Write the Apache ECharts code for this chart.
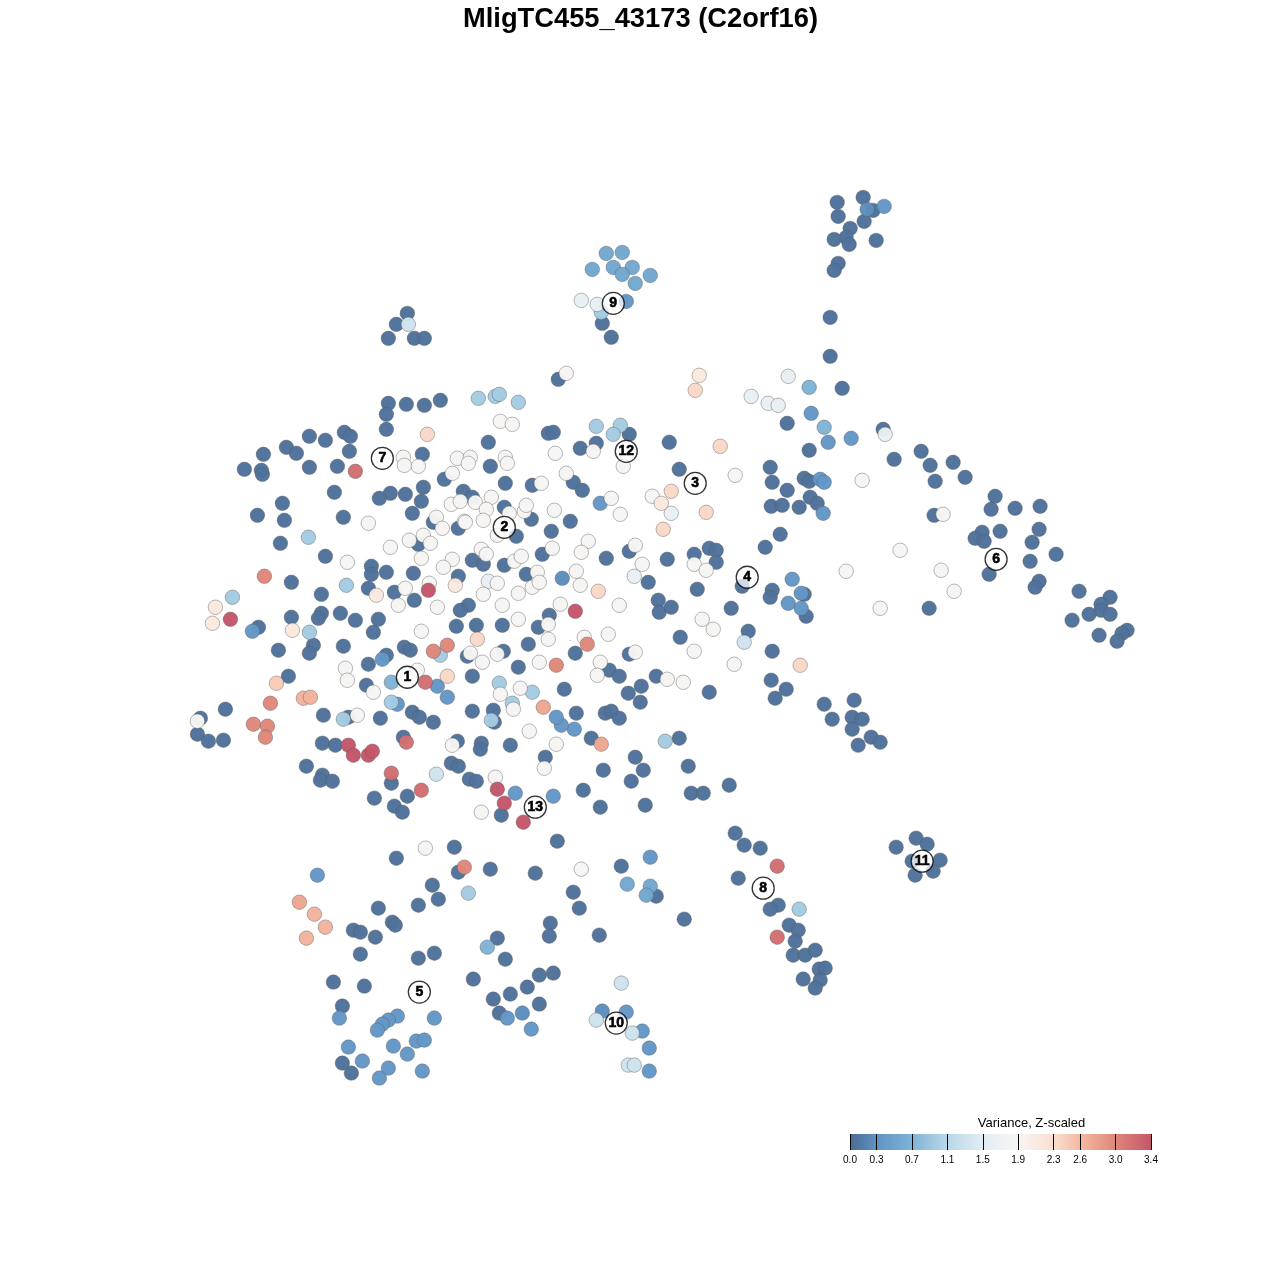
<!DOCTYPE html>
<html><head><meta charset="utf-8">
<style>html,body{margin:0;background:#fff}#c{width:1280px;height:1280px}</style>
<script src="https://cdn.jsdelivr.net/npm/echarts@6/dist/echarts.min.js"></script></head>
<body><div id="c"></div><script>
const titleText = 'MligTC455_43173 (C2orf16)';
const legendTitle = 'Variance, Z-scaled';
const legendTicks = [0.0,0.3,0.7,1.1,1.5,1.9,2.3,2.6,3.0,3.4];
const colorStops = [[0,'#4a6b92'],[0.3,'#5f93c4'],[0.7,'#7fb3d6'],[1.1,'#b9d8e8'],[1.5,'#e2edf4'],[1.9,'#f8f6f4'],[2.3,'#fbdfd0'],[2.6,'#f4b9a0'],[3.0,'#e0867a'],[3.4,'#c4566a']];
// embedding positions grouped by variance level
const v005 = [[837,202],[863,197],[873,210],[838,216],[864,221],[850,228],[846,237],[834,239],[849,244],[876,240],[838,263],[834,270],
[830,317],[830,356],[842,388],[558,379],[611,337],[407,313],[396,324],[388,338],[414,338],[424,338],
[388,403],[406,404],[424,405],[440,400],[386,414],[386,429],[344,432],[350,436],[349,451],[422,454],[488,442],[490,466],[444,479],[505,483],[532,485],[463,491],[472,497],[390,493],[379,498],[405,494],[423,487],[421,501],[412,513],[343,517],[337,466],[504,507],[531,519],[433,522],[458,528],[516,536],[418,544],[472,560],[483,564],[504,565],[526,574],[458,576],[413,573],[386,572],[371,566],[371,574],[368,588],[394,592],[414,600],[468,605],[460,610],
[570,521],[551,531],[542,554],[606,558],[629,551],[667,559],[648,582],[658,600],[659,612],[671,607],[680,637],[549,615],[538,627],[502,625],[528,644],[503,651],[575,653],[629,654],[609,670],[619,676],[656,676],[628,693],[641,686],[640,702],[518,667],[564,689],[476,625],[456,626],
[355,620],[378,619],[373,632],[343,646],[404,647],[410,650],[386,655],[368,664],[467,656],[472,676],[366,685],[380,718],[412,712],[419,717],[433,722],[472,711],[493,710],[494,722],[348,717],[403,737],[457,741],[481,743],[480,749],[510,745],[451,763],[458,766],[469,779],[476,781],[391,783],
[309,436],[325,440],[286,447],[263,454],[296,453],[244,469],[261,470],[262,474],[309,467],[282,503],[284,520],[257,515],[280,543],[325,556],[334,492],[291,582],[321,594],[340,613],[321,613],[318,618],[291,617],[258,627],[278,650],[313,645],[309,653],[288,676],
[225,709],[200,718],[197,734],[208,741],[223,740],[323,715],[322,743],[335,745],[306,766],[322,775],[320,780],[332,781],[374,798],[394,806],[402,812],[407,796],
[545,757],[576,713],[591,738],[635,757],[643,770],[631,781],[603,770],[583,790],[600,807],[645,805],[679,738],[688,766],[691,793],[703,793],[729,785],[709,692],[605,713],[611,711],[619,718],[501,815],
[557,841],[454,847],[396,858],[458,872],[490,869],[535,873],[621,866],[432,885],[656,896],[573,892],[579,908],[438,899],[418,905],[378,908],[684,919],[392,922],[395,925],[353,930],[360,932],[375,937],[360,954],[550,923],[549,936],[599,935],[497,938],[434,953],[418,958],[505,959],[553,973],[539,975],[473,979],[527,987],[333,982],[364,986],[510,994],[493,999],[539,1004],[342,1006],[499,1013],[342,1063],[351,1073],
[735,833],[744,845],[760,848],[738,878],[778,905],[770,909],[789,925],[798,930],[795,941],[793,955],[805,955],[815,950],[819,969],[825,968],[803,979],[820,980],[815,988],
[916,838],[927,844],[896,847],[912,861],[940,860],[933,871],[915,875],
[787,423],[809,450],[883,429],[894,459],[921,451],[930,465],[953,462],[935,481],[965,477],[995,496],[991,509],[1015,508],[1040,506],[1039,529],[934,515],[982,532],[975,538],[984,541],[1000,531],[1032,542],[1056,554],[1030,561],[989,574],[1039,581],[1035,587],[1079,591],[1110,597],[1101,604],[1101,610],[1089,614],[1110,614],[1072,620],[1099,635],[1127,630],[1122,633],[1117,641],[929,608],
[770,467],[772,482],[787,490],[804,478],[809,481],[810,497],[817,503],[799,507],[771,506],[782,505],[780,534],[765,547],[709,548],[716,550],[694,554],[716,562],[772,590],[770,597],[804,594],[806,616],[742,586],[731,608],[697,589],[748,631],[772,651],[771,680],[786,689],[775,698],[824,704],[854,700],[832,719],[852,717],[862,719],[852,729],[871,737],[880,742],[858,745],
[629,434],[596,443],[580,448],[548,433],[553,432],[669,442],[679,469],[573,482],[582,490],[602,323]];
const v025 = [[867,209],[562,578],[522,1013],[602,1011]];
const v035 = [[884,206],[626,301],[600,503],[820,479],[824,482],[823,513],[792,579],[801,593],[788,603],[801,608],[382,659],[437,686],[447,697],[397,704],[515,793],[553,796],[574,729],[561,725],[556,717],[252,631],[650,857],[317,875],[507,1018],[339,1018],[397,1016],[388,1020],[382,1024],[377,1030],[434,1018],[626,1012],[642,1031],[649,1048],[649,1071],[393,1046],[348,1047],[416,1041],[424,1040],[407,1054],[362,1061],[388,1068],[379,1078],[422,1071],[531,1029],[851,438],[828,442],[811,413]];
const v055 = [[606,253],[622,252],[613,267],[632,267],[650,275],[622,274],[635,283],[592,269],[627,884],[650,886],[646,895]];
const v070 = [[809,387],[824,427],[487,947],[391,682]];
const v095 = [[478,398],[495,396],[499,394],[518,402],[596,426],[620,425],[613,434],[308,537],[346,585],[232,597],[309,632],[440,655],[391,702],[343,719],[499,683],[532,692],[512,703],[491,720],[665,741],[468,893],[799,909],[601,312]];
const v130 = [[408,324],[436,774],[621,983],[596,1020],[632,1033],[628,1065],[634,1065],[744,642]];
const v160 = [[581,300],[597,304],[788,376],[751,396],[768,403],[778,405],[885,434],[671,513],[488,581],[634,576]];
const v185 = [[566,373],[500,421],[512,424],[403,457],[404,465],[418,466],[457,458],[470,457],[468,463],[505,457],[507,463],[452,473],[368,523],[451,504],[460,501],[475,502],[491,497],[486,509],[436,517],[442,528],[464,521],[465,522],[483,520],[509,513],[524,511],[526,505],[541,483],[497,535],[409,540],[423,535],[430,543],[390,547],[481,549],[486,554],[421,558],[452,559],[443,567],[347,562],[514,561],[521,556],[537,572],[405,588],[429,583],[497,583],[483,594],[518,593],[532,587],[554,510],[620,514],[588,541],[581,552],[635,545],[552,548],[642,564],[576,571],[580,585],[539,582],[502,605],[560,604],[619,605],[518,619],[548,624],[548,639],[584,637],[608,634],[635,652],[497,654],[482,662],[539,662],[600,662],[597,675],[667,679],[520,688],[500,694],[683,682],[421,631],[398,605],[437,607],[345,668],[347,680],[417,670],[373,692],[357,715],[470,653],[513,709],[529,731],[452,745],[495,777],[556,744],[544,768],[481,812],[425,848],[581,869],[197,721],[555,453],[593,451],[623,466],[566,473],[611,498],[652,496],[735,475],[862,480],[943,514],[900,550],[846,571],[941,570],[954,591],[880,608],[694,564],[706,570],[702,619],[713,629],[694,651],[734,664]];
const v215 = [[376,595],[455,585],[292,630],[215,607],[212,623],[699,375],[661,503]];
const v235 = [[427,434],[598,591],[477,639],[447,676],[695,390],[671,491],[720,446],[706,512],[663,529],[800,665]];
const v245 = [[276,683]];
const v265 = [[303,698],[310,697],[314,914],[325,927],[306,938]];
const v275 = [[299,902],[601,744],[543,707]];
const v300 = [[433,651],[447,645],[264,576],[270,703],[253,724],[267,726],[265,737],[587,644],[556,665],[464,867]];
const v320 = [[355,471],[425,682],[406,742],[421,790],[777,866],[777,937],[391,773]];
const v340 = [[428,590],[575,611],[230,619],[348,745],[353,755],[368,755],[372,751],[497,789],[504,803],[523,822]];
const varianceLevels = [[0.05,v005],[0.25,v025],[0.35,v035],[0.55,v055],[0.7,v070],[0.95,v095],[1.3,v130],[1.6,v160],[1.85,v185],[2.15,v215],[2.35,v235],[2.45,v245],[2.65,v265],[2.75,v275],[3.0,v300],[3.2,v320],[3.4,v340]];
const clusterIds = ['1','2','3','4','5','6','7','8','9','10','11','12','13'];
const clusterX = [407,504,695,747,419,996,382,763,613,616,922,626,535];
const clusterY = [677,527,483,577,992,559,458,888,303,1023,861,451,807];

const cells = varianceLevels.flatMap(([v,pts]) => pts.map(p => [p[0],p[1],v]));
const maxV = 3.4;
const gradient = new echarts.graphic.LinearGradient(0,0,1,0,colorStops.map(s=>({offset:s[0]/maxV,color:s[1]})));
const chart = echarts.init(document.getElementById('c'),null,{renderer:'canvas'});
chart.setOption({
  animation:false,
  backgroundColor:'#fff',
  title:[
    {text:titleText,left:640.5,top:6,padding:0,textAlign:'center',textStyle:{fontFamily:'Liberation Sans',fontSize:27.3,fontWeight:'bold',color:'#000'}},
    {text:legendTitle,left:1031.5,top:1117,padding:0,textAlign:'center',textStyle:{fontFamily:'Liberation Sans',fontSize:13,fontWeight:'normal',color:'#000'}}
  ],
  grid:[
    {left:0.5,top:0.5,width:1280,height:1280,show:false},
    {left:850,top:1134,width:301,height:16,show:true,borderWidth:0,backgroundColor:gradient}
  ],
  xAxis:[
    {gridIndex:0,type:'value',min:0,max:1280,show:false},
    {gridIndex:1,type:'value',min:0,max:maxV,position:'bottom',
     axisLine:{show:false},splitLine:{show:false},
     axisTick:{show:true,inside:true,length:16,lineStyle:{color:'#000',width:1},customValues:legendTicks},
     axisLabel:{show:true,margin:5,fontFamily:'Liberation Sans',fontSize:10,color:'#000',customValues:legendTicks,formatter:v=>v.toFixed(1),hideOverlap:false,showMinLabel:true,showMaxLabel:true}}
  ],
  yAxis:[
    {gridIndex:0,type:'value',min:0,max:1280,inverse:true,show:false},
    {gridIndex:1,type:'value',min:0,max:1,show:false}
  ],
  visualMap:{show:false,type:'continuous',min:0,max:maxV,dimension:2,seriesIndex:0,
    inRange:{color:(function(){const out=[];for(let i=0;i<=34;i++){const v=i/10;let k=0;while(k<colorStops.length-2&&colorStops[k+1][0]<v)k++;const a=colorStops[k],b=colorStops[k+1];const t=(v-a[0])/(b[0]-a[0]);const h=c=>[1,3,5].map(j=>parseInt(c.substr(j,2),16));const A=h(a[1]),B=h(b[1]);out.push('rgb('+A.map((x,j)=>Math.round(x+(B[j]-x)*t)).join(',')+')');}return out;})()}},
  series:[
    {type:'scatter',xAxisIndex:0,yAxisIndex:0,data:cells,symbol:'circle',symbolSize:14.5,large:false,silent:true,z:2,
     itemStyle:{opacity:0.97,borderColor:'rgba(90,90,90,0.55)',borderWidth:0.8}},
    {type:'scatter',xAxisIndex:0,yAxisIndex:0,data:clusterIds.map((id,i)=>[clusterX[i],clusterY[i],id]),symbol:'circle',symbolSize:22,silent:true,z:5,
     itemStyle:{color:'rgba(255,255,255,0.92)',borderColor:'#000',borderWidth:1.3}},
    {type:'scatter',xAxisIndex:0,yAxisIndex:0,data:clusterIds.map((id,i)=>[clusterX[i],clusterY[i],id]),symbol:'circle',symbolSize:1,silent:true,z:6,
     itemStyle:{color:'rgba(255,255,255,0)'},
     label:{show:true,position:'inside',formatter:p=>p.value[2],fontFamily:'Liberation Sans',fontSize:14,fontWeight:'bold',color:'#000',opacity:1,textBorderColor:'#000',textBorderWidth:0.6}},
    {type:'scatter',xAxisIndex:0,yAxisIndex:0,data:[[570,640]],symbol:'circle',symbolSize:1,silent:true,z:1,itemStyle:{color:'#4a6b92'}}
  ]
});
</script></body></html>
